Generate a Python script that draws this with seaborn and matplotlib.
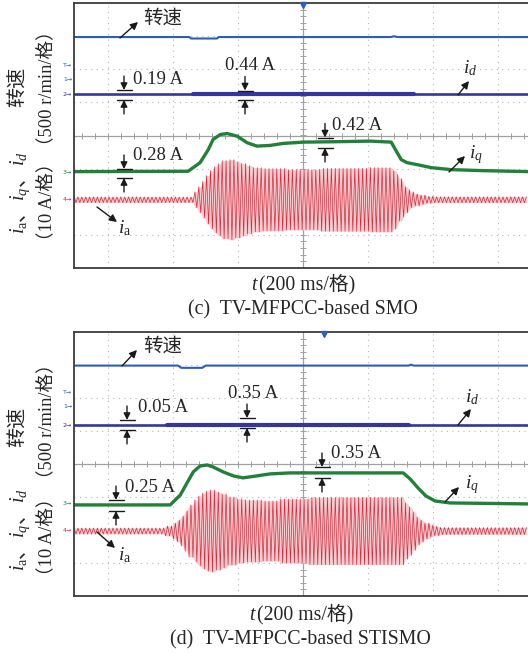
import numpy as np
import pandas as pd
import matplotlib
matplotlib.use("Agg")
import matplotlib.pyplot as plt
from matplotlib.lines import Line2D
from matplotlib.patches import FancyArrowPatch
import seaborn as sns

sns.set_theme(style="white")
plt.rcParams["font.family"] = ["Liberation Serif", "Noto Sans CJK SC", "DejaVu Sans"]
plt.rcParams["mathtext.fontset"] = "custom"
plt.rcParams["mathtext.rm"] = "Liberation Serif"
plt.rcParams["mathtext.it"] = "Liberation Serif:italic"
plt.rcParams["mathtext.bf"] = "Liberation Serif:bold"

# ---------------- data (read from the oscilloscope screens) ----------------
SPEED_SCALE = 500.0    # r/min per division
CURRENT_SCALE = 10.0   # A per division
T_LEFT, T_RIGHT = -705, 692   # ms, screen span (200 ms/div)
IA_PERIOD_MS = 12.0

# panel (c) TV-MFPCC-based SMO
c_speed_t = [-705, -350, -345, -265, -260, 270, 280, 290, 692]
c_speed_rpm = [636, 636, 614, 614, 636, 636, 648, 636, 636]
c_id_t = [-705, 692]
c_id_A = [0.0, 0.0]
c_id_noisy_t = [-338, 342]
c_iq_t = [-705, -354, -317, -292, -277, -255, -234, -203, -172, -142, -102, -62, 0, 83, 206,
          271, 289, 302, 320, 351, 394, 455, 548, 692]
c_iq_A = [0.3, 0.4, 3.0, 6.9, 10.0, 11.5, 11.8, 11.0, 9.0, 8.0, 8.2, 8.8, 9.2, 9.3, 9.5,
          9.2, 6.1, 3.9, 3.0, 2.4, 1.5, 0.9, 0.6, 0.3]
c_ia_edge_t = [-705, -335, -323, -311, -298, -286, -274, -262, -249, -225, -209, -194, -175,
               -157, -126, -55, 52, 206, 274, 286, 295, 305, 314, 323, 332, 345, 360, 378, 403]
c_ia_amp_A = [0.85, 2.4, 3.9, 5.5, 7.3, 8.8, 10.0, 10.9, 11.8, 12.1, 11.5, 10.9, 10.3,
              9.7, 9.4, 9.1, 9.5, 9.7, 8.8, 7.6, 6.4, 5.2, 3.9, 3.0, 2.4, 1.8, 1.4, 1.05, 0.9]

# panel (d) TV-MFPCC-based STISMO
d_speed_t = [-705, -385, -375, -310, -300, 325, 332, 340, 692]
d_speed_rpm = [626, 626, 592, 592, 626, 626, 640, 626, 626]
d_id_t = [-705, 692]
d_id_A = [0.0, 0.0]
d_id_noisy_t = [-418, 326]
d_iq_t = [-705, -409, -378, -357, -338, -317, -295, -277, -246, -215, -185, -142, -102, -40,
          145, 308, 329, 354, 378, 406, 452, 692]
d_iq_A = [-0.3, -0.3, 2.7, 6.4, 9.7, 11.5, 11.8, 11.2, 9.7, 8.5, 7.9, 8.5, 9.1, 9.4,
          9.4, 9.4, 7.6, 4.8, 2.4, 0.9, 0.3, 0.0]
d_ia_edge_t = [-705, -425, -403, -388, -375, -363, -351, -338, -326, -314, -301, -286, -268,
               -249, -231, -206, -178, -126, -71, 21, 311, 323, 335, 348, 360, 372, 388, 403, 422]
d_ia_amp_A = [0.9, 1.5, 2.4, 3.3, 4.5, 6.1, 7.9, 9.4, 10.6, 11.5, 12.1, 12.4, 11.8,
              11.2, 10.3, 9.7, 9.4, 9.1, 9.7, 10.2, 8.5, 7.3, 5.8, 4.2, 3.3, 2.4, 1.8, 1.4, 1.05]

# channel ground levels (divisions from screen centre): T, ch1..ch4
c_levels = [2.12, 1.70, 1.24, -1.12, -1.94]
d_levels = [2.18, 1.73, 1.18, -1.21, -2.03]
c_trigger_t = 0
d_trigger_t = 65

COL_SPEED = "#2d5db7"
COL_ID = "#35359c"
COL_IQ = "#23803a"
COL_IA = "#d9283a"
COL_IA_FILL = "#f5cdd0"

W, H = 528, 655
fig = plt.figure(figsize=(W / 100, H / 100), dpi=100)


def F(x, y):
    return (x / W, 1 - y / H)


def draw_panel(ax, speed_t, speed_rpm, id_t, id_A, id_noisy, iq_t, iq_A, ia_edges, ia_amp,
               levels, trig_t):
    lvT, lv1, lv2, lv3, lv4 = levels
    ax.set_xlim(T_LEFT, T_RIGHT)
    ax.set_ylim(-4, 4)
    ax.set_xticks([])
    ax.set_yticks([])
    for s in ["left", "top", "bottom"]:
        ax.spines[s].set_color("#3c3c3c")
        ax.spines[s].set_linewidth(1.3)
    ax.spines["right"].set_visible(False)
    ax.set_facecolor("white")
    for k in [-3, -2, -1, 1, 2, 3]:
        ax.axvline(k * 200, color="#b5b5b5", lw=0.8, ls=(0, (1, 4)), zorder=0)
        ax.axhline(k, color="#b5b5b5", lw=0.8, ls=(0, (1, 4)), zorder=0)
    ax.axhline(0, color="#a0a0a0", lw=0.9, zorder=0)
    ax.axvline(0, color="#a0a0a0", lw=0.9, zorder=0)
    tt = np.arange(-680, 692, 40)
    ax.plot(tt, np.zeros_like(tt), ls="none", marker="|", ms=4, mew=0.7, color="#a0a0a0", zorder=0)
    ty = np.arange(-3.8, 3.9, 0.2)
    ax.plot(np.zeros_like(ty), ty, ls="none", marker="_", ms=4, mew=0.7, color="#a0a0a0", zorder=0)

    # speed
    sp = pd.DataFrame({"t": speed_t, "y": lv1 + np.asarray(speed_rpm) / SPEED_SCALE})
    sns.lineplot(data=sp, x="t", y="y", ax=ax, color=COL_SPEED, lw=1.5, sort=False, estimator=None)
    # i_d
    idf = pd.DataFrame({"t": id_t, "y": lv2 + np.asarray(id_A) / CURRENT_SCALE})
    sns.lineplot(data=idf, x="t", y="y", ax=ax, color=COL_ID, lw=1.9, sort=False, estimator=None)
    idn = pd.DataFrame({"t": id_noisy, "y": [lv2, lv2]})
    sns.lineplot(data=idn, x="t", y="y", ax=ax, color=COL_ID, lw=3.0, sort=False, estimator=None)
    # i_q
    iqf = pd.DataFrame({"t": iq_t, "y": lv3 + np.asarray(iq_A) / CURRENT_SCALE})
    sns.lineplot(data=iqf, x="t", y="y", ax=ax, color=COL_IQ, lw=2.4, sort=False, estimator=None)
    # i_a : zig-zag carrier between the read envelope values
    tv = np.arange(T_LEFT, T_RIGHT + 0.1, IA_PERIOD_MS / 2)
    idx = np.clip(np.searchsorted(ia_edges, tv, side="right") - 1, 0, len(ia_amp) - 1)
    amp = np.asarray(ia_amp)[idx]
    sign = np.where(np.arange(len(tv)) % 2 == 0, 1.0, -1.0)
    ax.fill_between(tv, lv4 - amp / CURRENT_SCALE, lv4 + amp / CURRENT_SCALE,
                    color=COL_IA_FILL, lw=0, zorder=1)
    iaf = pd.DataFrame({"t": tv, "y": lv4 + sign * amp / CURRENT_SCALE})
    sns.lineplot(data=iaf, x="t", y="y", ax=ax, color=COL_IA, lw=0.5, sort=False, estimator=None)

    # channel markers
    tr = ax.get_yaxis_transform()
    marks = [("T→", lvT, COL_SPEED), ("1→", lv1, COL_SPEED), ("2→", lv2, COL_ID),
             ("3→", lv3, COL_IQ), ("4→", lv4, COL_IA)]
    for s, lv, c in marks:
        ax.text(-0.004, lv, s, transform=tr, ha="right", va="center", fontsize=4.5,
                color=c, family="DejaVu Sans", clip_on=False)
    ax.plot([trig_t], [3.93], marker="v", ms=5, color=COL_SPEED, clip_on=False, zorder=5)
    ax.set_xlabel("")
    ax.set_ylabel("")


ax_c = fig.add_axes([74 / W, (H - 268) / H, 454 / W, 265 / H])
ax_d = fig.add_axes([74 / W, (H - 596) / H, 454 / W, 264 / H])
draw_panel(ax_c, c_speed_t, c_speed_rpm, c_id_t, c_id_A, c_id_noisy_t, c_iq_t, c_iq_A,
           c_ia_edge_t, c_ia_amp_A, c_levels, c_trigger_t)
draw_panel(ax_d, d_speed_t, d_speed_rpm, d_id_t, d_id_A, d_id_noisy_t, d_iq_t, d_iq_A,
           d_ia_edge_t, d_ia_amp_A, d_levels, d_trigger_t)

renderer = fig.canvas.get_renderer()
FAM = ["Liberation Serif", "Noto Sans CJK SC", "DejaVu Sans"]


def pieces_text(x, y, pieces, size, rotation=0):
    """place a string made of pieces, centred on pixel (x, y)."""
    widths = []
    for s in pieces:
        tmp = fig.text(0, 0, s, fontsize=size, family=FAM)
        widths.append(tmp.get_window_extent(renderer).width)
        tmp.remove()
    total = sum(widths)
    em = size * 100 / 72
    if rotation == 0:
        cx = x - total / 2
        by = y + 0.33 * em
        for s, w in zip(pieces, widths):
            fig.text(*F(cx, by), s, fontsize=size, family=FAM, ha="left", va="baseline")
            cx += w
    else:
        bx = x + 0.33 * em
        cy = y + total / 2
        for s, w in zip(pieces, widths):
            fig.text(*F(bx, cy), s, fontsize=size, family=FAM, ha="left", va="baseline",
                     rotation=90, rotation_mode="anchor")
            cy -= w


def label(x, y, s, size=13.5):
    fig.text(*F(x, y), s, fontsize=size, family=FAM, ha="left", va="center", zorder=6)


def pointer(tail, tip, ms=11):
    arr = FancyArrowPatch(F(*tail), F(*tip), transform=fig.transFigure, arrowstyle="-|>",
                          color="k", lw=1.0, mutation_scale=ms, shrinkA=0, shrinkB=0, zorder=6)
    fig.add_artist(arr)


def gap(x, y_top, y_bot, half=7.5, alen=14):
    for yy in (y_top, y_bot):
        fig.add_artist(Line2D([(x - half) / W, (x + half) / W], [1 - yy / H] * 2,
                              color="k", lw=1.0, zorder=6))
    pointer((x, y_top - alen), (x, y_top), 10)
    pointer((x, y_bot + alen), (x, y_bot), 10)


# ---- panel (c) annotations
label(143, 19, "转速", 14)
pointer((120, 38), (138, 22))
label(133, 79, "0.19 A")
gap(124, 90, 100)
label(225, 65, "0.44 A")
gap(245, 90.5, 100)
label(463, 68, "$i_d$", 14)
pointer((458, 95), (469, 81))
label(332, 125, "0.42 A")
gap(325, 137.5, 148)
label(133, 156, "0.28 A")
gap(124, 169, 178)
label(469, 155, "$i_q$", 14)
pointer((449, 172), (465, 156))
label(118, 228, "$i_\\mathrm{a}$", 14)
pointer((97, 207), (117, 222))

pieces_text(17, 87, ["转速"], 14.5, rotation=90)
pieces_text(46, 88, ["（500 r/min/格）"], 13.3, rotation=90)
pieces_text(17, 193, ["$i_\\mathrm{a}$", "、", "$i_q$", "、", "$i_d$"], 14.5, rotation=90)
pieces_text(46, 202, ["（10 A/格）"], 13.3, rotation=90)
pieces_text(303, 283, ["$t$", "(200 ms/格)"], 14.2)
pieces_text(303, 308, ["(c)  TV-MFPCC-based SMO"], 14.3)

# ---- panel (d) annotations
label(143, 347, "转速", 14)
pointer((122, 366), (137, 350))
label(138, 407, "0.05 A")
gap(127, 420, 430)
label(228, 393, "0.35 A")
gap(247, 418, 428)
label(465, 397, "$i_d$", 14)
pointer((458, 425), (471, 409))
label(331, 453, "0.35 A")
gap(322, 467, 478)
label(125, 487, "0.25 A")
gap(116, 500, 511)
label(465, 485, "$i_q$", 14)
pointer((445, 502), (459, 487))
label(118, 555, "$i_\\mathrm{a}$", 14)
pointer((97, 532), (115, 548))

pieces_text(17, 427, ["转速"], 14.5, rotation=90)
pieces_text(46, 421, ["（500 r/min/格）"], 13.3, rotation=90)
pieces_text(17, 530, ["$i_\\mathrm{a}$", "、", "$i_q$", "、", "$i_d$"], 14.5, rotation=90)
pieces_text(46, 537, ["（10 A/格）"], 13.3, rotation=90)
pieces_text(301, 613, ["$t$", "(200 ms/格)"], 14.2)
pieces_text(300, 638, ["(d)  TV-MFPCC-based STISMO"], 14.3)

fig.savefig("out.png", dpi=100)
